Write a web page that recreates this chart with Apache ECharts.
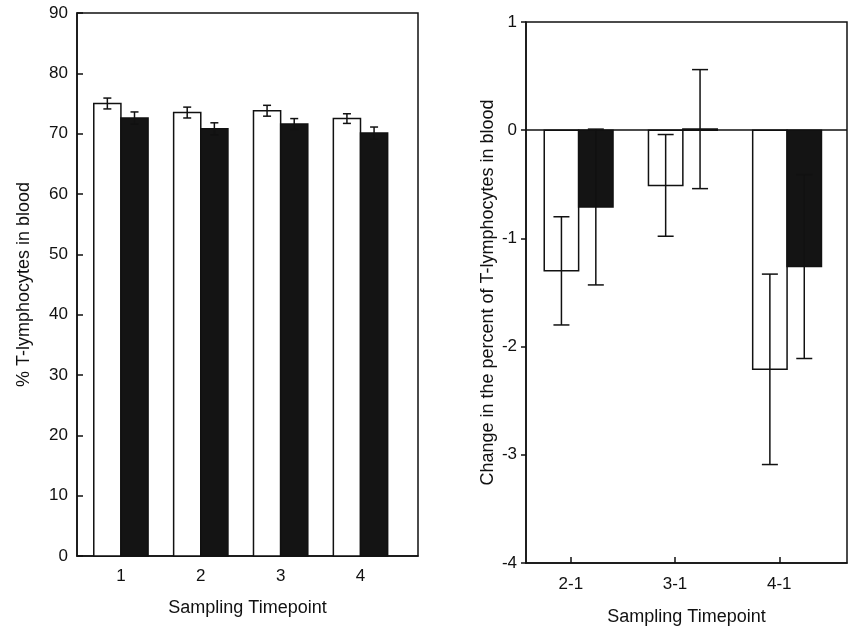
<!DOCTYPE html>
<html>
<head>
<meta charset="utf-8">
<script src="https://cdn.jsdelivr.net/npm/echarts@6/dist/echarts.min.js"></script>
<style>
  html, body { margin: 0; padding: 0; background: #fff; }
  #chart { width: 850px; height: 633px; }
</style>
</head>
<body>
<div id="chart"></div>
<script>
// left panel: % T-lymphocytes per sampling timepoint
const leftCats = ['1', '2', '3', '4']
const leftWhite = [75.0, 73.5, 73.8, 72.5]
const leftWhiteErr = [0.9, 0.9, 0.9, 0.8]
const leftDark = [72.6, 70.8, 71.6, 70.1]
const leftDarkErr = [1.0, 1.0, 0.9, 1.0]
const leftTicks = [0, 10, 20, 30, 40, 50, 60, 70, 80, 90]

// right panel: change relative to timepoint 1
const rightCats = ['2-1', '3-1', '4-1']
const rightWhite = [-1.30, -0.51, -2.21]
const rightWhiteErr = [0.50, 0.47, 0.88]
const rightDark = [-0.71, 0.01, -1.26]
const rightDarkErr = [0.72, 0.55, 0.85]

const font = 'Liberation Sans, Arial, sans-serif'
const ink = '#111'

function barSeries(name, gridIdx, values, offset, width, fill) {
  return {
    name: name,
    type: 'custom',
    xAxisIndex: gridIdx,
    yAxisIndex: gridIdx,
    data: values.map((v, i) => [i + 1, v]),
    renderItem: function (params, api) {
      const x = api.value(0) + offset
      const top = api.coord([x, api.value(1)])
      const base = api.coord([x, 0])
      const w = api.size([width, 0])[0]
      return {
        type: 'rect',
        shape: { x: top[0] - w / 2, y: Math.min(top[1], base[1]), width: w, height: Math.abs(base[1] - top[1]) },
        style: { fill: fill, stroke: ink, lineWidth: 1.5 }
      }
    }
  }
}

function errSeries(gridIdx, values, errs, offset, cap) {
  return {
    type: 'custom',
    xAxisIndex: gridIdx,
    yAxisIndex: gridIdx,
    z: 5,
    data: values.map((v, i) => [i + 1, v - errs[i], v + errs[i]]),
    renderItem: function (params, api) {
      const x = api.value(0) + offset
      const lo = api.coord([x, api.value(1)])
      const hi = api.coord([x, api.value(2)])
      const st = { stroke: ink, lineWidth: 1.5 }
      return {
        type: 'group',
        children: [
          { type: 'line', shape: { x1: lo[0], y1: lo[1], x2: hi[0], y2: hi[1] }, style: st },
          { type: 'line', shape: { x1: lo[0] - cap, y1: lo[1], x2: lo[0] + cap, y2: lo[1] }, style: st },
          { type: 'line', shape: { x1: hi[0] - cap, y1: hi[1], x2: hi[0] + cap, y2: hi[1] }, style: st }
        ]
      }
    }
  }
}

const axisText = { color: ink, fontFamily: font, fontSize: 17 }
const nameText = { color: ink, fontFamily: font, fontSize: 18 }

const chart = echarts.init(document.getElementById('chart'))
chart.setOption({
  animation: false,
  backgroundColor: '#fff',
  grid: [
    { left: 77, right: 432, top: 13, bottom: 77, show: true, borderColor: ink, borderWidth: 1.5 },
    { left: 526, right: 3, top: 22, bottom: 70, show: true, borderColor: ink, borderWidth: 1.5 }
  ],
  xAxis: [
    {
      type: 'value', gridIndex: 0, min: 0.45, max: 4.72,
      name: 'Sampling Timepoint', nameLocation: 'middle', nameGap: 43, nameTextStyle: nameText,
      axisLine: { onZero: false, lineStyle: { color: ink, width: 1.5 } },
      axisTick: { show: false },
      axisLabel: Object.assign({ margin: 12, customValues: [1, 2, 3, 4], formatter: v => leftCats[Math.round(v) - 1] }, axisText),
      splitLine: { show: false }
    },
    {
      type: 'value', gridIndex: 1, min: 0.57, max: 3.65,
      name: 'Sampling Timepoint', nameLocation: 'middle', nameGap: 45, nameTextStyle: nameText,
      axisLine: { onZero: false, lineStyle: { color: ink, width: 1.5 } },
      axisTick: { inside: true, length: 6, customValues: [1, 2, 3], lineStyle: { color: ink, width: 1.5 } },
      axisLabel: Object.assign({ margin: 13, customValues: [1, 2, 3], formatter: v => rightCats[Math.round(v) - 1] }, axisText),
      splitLine: { show: false }
    }
  ],
  yAxis: [
    {
      type: 'value', gridIndex: 0, min: 0, max: 90, interval: 10,
      name: '% T-lymphocytes in blood', nameLocation: 'middle', nameGap: 44, nameTextStyle: nameText,
      axisLine: { show: true, onZero: false, lineStyle: { color: ink, width: 1.5 } },
      axisTick: { inside: true, length: 6, customValues: leftTicks, lineStyle: { color: ink, width: 1.5 } },
      axisLabel: Object.assign({ margin: 9, customValues: leftTicks }, axisText),
      splitLine: { show: false }
    },
    {
      type: 'value', gridIndex: 1, min: -4, max: 1, interval: 1,
      name: 'Change in the percent of T-lymphocytes in blood', nameLocation: 'middle', nameGap: 29, nameTextStyle: nameText,
      axisLine: { show: true, onZero: false, lineStyle: { color: ink, width: 1.5 } },
      axisTick: { length: 5, lineStyle: { color: ink, width: 1.5 } },
      axisLabel: Object.assign({ margin: 9 }, axisText),
      splitLine: { show: false }
    }
  ],
  series: [
    barSeries('white', 0, leftWhite, -0.17, 0.34, '#fff'),
    barSeries('dark', 0, leftDark, 0.17, 0.34, '#141414'),
    errSeries(0, leftWhite, leftWhiteErr, -0.17, 4),
    errSeries(0, leftDark, leftDarkErr, 0.17, 4),
    Object.assign(barSeries('white', 1, rightWhite, -0.09, 0.33, '#fff'), {
      markLine: {
        silent: true, symbol: 'none', label: { show: false },
        lineStyle: { color: ink, width: 1.5, type: 'solid' },
        data: [{ yAxis: 0 }]
      }
    }),
    barSeries('dark', 1, rightDark, 0.24, 0.33, '#141414'),
    errSeries(1, rightWhite, rightWhiteErr, -0.09, 8),
    errSeries(1, rightDark, rightDarkErr, 0.24, 8)
  ]
})
</script>
</body>
</html>
